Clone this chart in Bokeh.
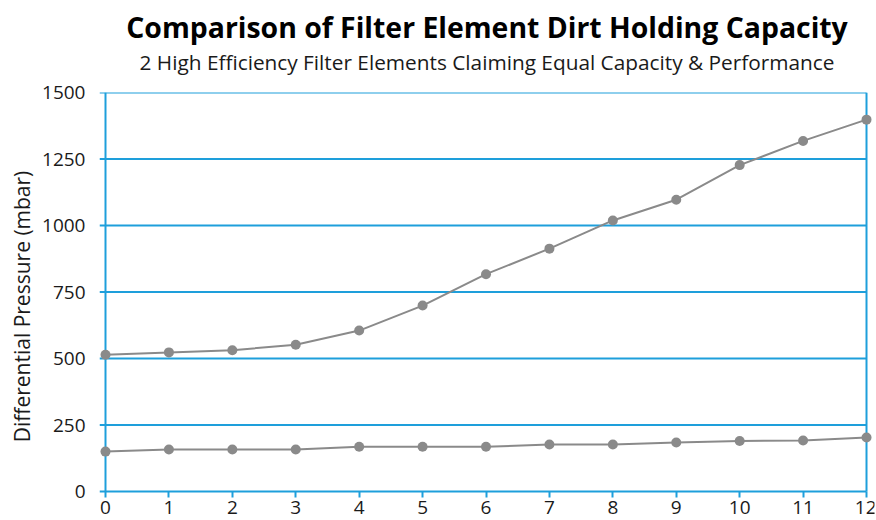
from bokeh.plotting import figure
from bokeh.models import Range1d, Title, FixedTicker, LinearAxis
from bokeh.embed import file_html
from bokeh.resources import INLINE

# ---- data ----
hours = [0, 1, 2, 3, 4, 5, 6, 7, 8, 9, 10, 11, 12]
element_a = [514, 523, 531, 552, 605, 699, 817, 913, 1019, 1097, 1227, 1318, 1398]
element_b = [150, 158, 158, 158, 168, 168, 168, 177, 177, 184, 190, 192, 203]
y_ticks = [0, 250, 500, 750, 1000, 1250, 1500]

title_text = "Comparison of Filter Element Dirt Holding Capacity"
subtitle_text = "2 High Efficiency Filter Elements Claiming Equal Capacity & Performance"
y_label = "Differential Pressure (mbar)"

BLUE = "#1E9FDB"
GRAY = "#8A8A8A"
FONT = "Open Sans"
TXT = "#1a1a1a"

x_lo = -0.0946
x_hi = 12.126
y_lo = -109

p = figure(width=876, height=520, output_backend="svg", toolbar_location=None,
           x_range=Range1d(x_lo, x_hi), y_range=Range1d(y_lo, y_ticks[-1]),
           x_axis_location=None, y_axis_location=None,
           min_border_left=99, min_border_right=2, min_border_top=92, min_border_bottom=0)
p.outline_line_color = None
p.xgrid.visible = False
p.ygrid.visible = False
p.background_fill_color = "white"
p.border_fill_color = "white"

# horizontal grid lines (from the tick list), extending left like outward ticks
p.segment(x0=[x_lo] * len(y_ticks), y0=y_ticks, x1=[hours[-1]] * len(y_ticks), y1=y_ticks,
          line_color=BLUE, line_width=2)

# vertical lines at both ends of the x domain
p.segment(x0=[hours[0], hours[-1]], y0=[y_ticks[0]] * 2, x1=[hours[0], hours[-1]],
          y1=[y_ticks[-1]] * 2, line_color=BLUE, line_width=2)

# series
for ys in (element_a, element_b):
    p.line(hours, ys, line_color=GRAY, line_width=2)
    p.scatter(hours, ys, size=10, fill_color=GRAY, line_color=None)

# axes
xa = LinearAxis(ticker=FixedTicker(ticks=hours), fixed_location=0)
xa.axis_line_color = None
xa.major_tick_line_color = BLUE
xa.major_tick_line_width = 2
xa.major_tick_out = 6
xa.major_tick_in = 0
xa.minor_tick_line_color = None
xa.major_label_standoff = 3
xa.major_label_text_font = FONT
xa.major_label_text_font_size = "19px"
xa.major_label_text_color = TXT
p.add_layout(xa, "below")

ya = LinearAxis(ticker=FixedTicker(ticks=y_ticks), axis_label=y_label)
ya.axis_line_color = None
ya.major_tick_line_color = None
ya.major_tick_out = 0
ya.major_tick_in = 0
ya.minor_tick_line_color = None
ya.major_label_standoff = 14
ya.major_label_text_font = FONT
ya.major_label_text_font_size = "19px"
ya.major_label_text_color = TXT
ya.axis_label_text_font = FONT
ya.axis_label_text_font_size = "21px"
ya.axis_label_text_font_style = "normal"
ya.axis_label_text_color = TXT
ya.axis_label_standoff = 3
p.add_layout(ya, "left")

# invisible spacer axis between the plot area and the subtitle
mid = hours[len(hours) // 2]
spacer = LinearAxis(ticker=FixedTicker(ticks=[mid]), major_label_overrides={mid: ""})
spacer.axis_line_color = None
spacer.major_tick_line_color = None
spacer.minor_tick_line_color = None
spacer.major_tick_out = 17
spacer.major_tick_in = 0
spacer.minor_tick_out = 0
spacer.major_label_standoff = 0
spacer.major_label_text_font_size = "1px"
p.add_layout(spacer, "above")

p.add_layout(Title(text=subtitle_text, align="center", text_font=FONT,
                   text_font_size="20.8px", text_font_style="normal",
                   text_color=TXT, standoff=0), "above")
p.add_layout(Title(text=title_text, align="center", text_font=FONT,
                   text_font_size="28.4px", text_font_style="bold",
                   text_color="black", standoff=0), "above")

open("out.html", "w").write(file_html(p, INLINE))
